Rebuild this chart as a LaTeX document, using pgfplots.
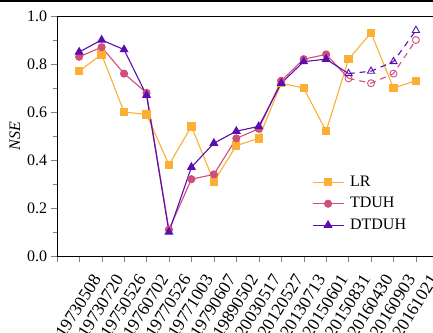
\documentclass[border=0pt]{standalone}
\usepackage{fontspec}
\setmainfont{Liberation Serif}
\usepackage{pgfplots}
\pgfplotsset{compat=1.18}
\definecolor{cLR}{HTML}{FBB034}
\definecolor{cTD}{HTML}{D04E7C}
\definecolor{cDT}{HTML}{5B0DB1}
\begin{document}
\begin{tikzpicture}
\begin{axis}[
  scale only axis, width=376.3bp, height=240bp,
  xmin=0, xmax=16.76, ymin=0, ymax=1,
  axis x line*=box, axis y line*=left,
  xtick pos=bottom, ytick pos=left,
  tick align=outside,
  major tick length=6bp, minor tick length=3.5bp,
  xtick={0,...,16},
  xticklabels={{},19730508,19730720,19750526,19760702,19770526,19771003,19790607,19890502,20030517,20120527,20130713,20150601,20150831,20160430,20160903,20161021},
  xticklabel style={xshift=12.5bp, yshift=-11bp, inner sep=0pt, rotate=58, anchor=north east, font=\fontsize{17.5bp}{20bp}\selectfont},
  ytick={0,0.2,0.4,0.6,0.8,1.0}, minor y tick num=1,
  yticklabel style={font=\fontsize{16bp}{19bp}\selectfont, /pgf/number format/.cd, fixed, fixed zerofill, precision=1},
  /pgf/number format/assume math mode=true,
  label style={font=\fontsize{16bp}{19bp}\selectfont},
  ylabel={\textit{NSE}},
  legend style={draw=none, fill=none, at={(0.67,0.35)}, anchor=north west,
    font=\fontsize{16bp}{19bp}\selectfont, row sep=5.5bp, column sep=5bp,
    nodes={inner sep=1bp, text height=11bp, text depth=3bp}},
  legend cell align=left,
  legend image code/.code={\draw[mark indices={2}] plot coordinates {(0bp,0bp) (15.5bp,0bp) (31bp,0bp)};},
  every axis plot/.append style={line width=1.1bp},
]
\addplot[cLR, mark=square*, mark size=3.6bp, mark options={solid}] coordinates {
(1,0.77)(2,0.84)(3,0.60)(4,0.59)(5,0.38)(6,0.54)(7,0.31)(8,0.46)(9,0.49)(10,0.72)(11,0.70)(12,0.52)(13,0.82)(14,0.93)(15,0.70)(16,0.73)};
\addlegendentry{LR}
\addplot[cTD, mark=*, mark size=3.5bp, mark indices={1,...,12}] coordinates {
(1,0.83)(2,0.87)(3,0.76)(4,0.68)(5,0.11)(6,0.32)(7,0.34)(8,0.49)(9,0.53)(10,0.73)(11,0.82)(12,0.84)(13,0.74)};
\addlegendentry{TDUH}
\addplot[cDT, mark=triangle*, mark size=4.2bp, mark indices={1,...,12}] coordinates {
(1,0.85)(2,0.90)(3,0.86)(4,0.67)(5,0.10)(6,0.37)(7,0.47)(8,0.52)(9,0.54)(10,0.72)(11,0.81)(12,0.82)(13,0.76)};
\addlegendentry{DTDUH}
\addplot[cTD, dash pattern=on 6bp off 5bp, mark=o, mark size=3.5bp, mark options={solid, fill=white, line width=0.9bp}, forget plot] coordinates {
(13,0.74)(14,0.72)(15,0.76)(16,0.90)};
\addplot[cDT, dash pattern=on 6bp off 5bp, mark=triangle, mark size=4.2bp, mark options={solid, fill=white, line width=0.9bp}, forget plot] coordinates {
(13,0.76)(14,0.77)(15,0.81)(16,0.94)};
\end{axis}
\fill (-56.7bp,253.8bp) rectangle (376.3bp,256bp);
\pgfresetboundingbox
\path[use as bounding box] (-56.7bp,-77bp) rectangle (376.3bp,256bp);
\end{tikzpicture}
\end{document}
